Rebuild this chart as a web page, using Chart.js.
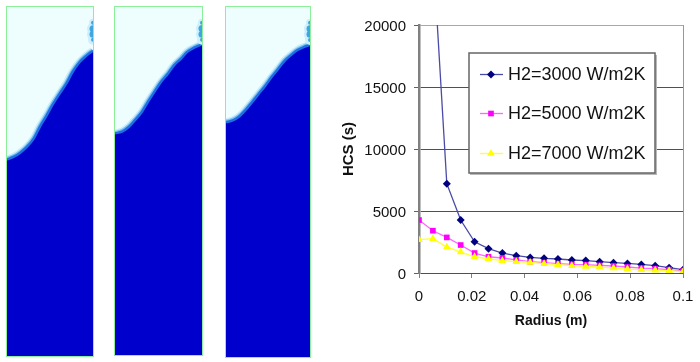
<!DOCTYPE html>
<html>
<head>
<meta charset="utf-8">
<script src="https://cdn.jsdelivr.net/npm/chart.js@4"></script>
<style>
  html, body { margin: 0; padding: 0; background: #fff; }
  body { position: relative; width: 700px; height: 362px; overflow: hidden; }
  .panel { position: absolute; box-sizing: border-box; border: 1px solid #8cf098; }
  .panel canvas { display: block; }
  #hcs { position: absolute; left: 340px; top: 0; }
</style>
</head>
<body>
<div class="panel" style="left:6px;top:6px;width:88px;height:351px"><canvas id="panel1" width="86" height="349"></canvas></div>
<div class="panel" style="left:114px;top:6px;width:89px;height:350px"><canvas id="panel2" width="87" height="348"></canvas></div>
<div class="panel" style="left:225px;top:6px;width:86px;height:352px"><canvas id="panel3" width="84" height="350"></canvas></div>
<canvas id="hcs" width="360" height="362"></canvas>
<script>
const radius = [0, 0.00526, 0.01053, 0.01579, 0.02105, 0.02632, 0.03158, 0.03684, 0.04211, 0.04737,
                0.05263, 0.05789, 0.06316, 0.06842, 0.07368, 0.07895, 0.08421, 0.08947, 0.09474, 0.1];
const hcs3000 = [32000, 26000, 7200, 4270, 2520, 1960, 1610, 1395, 1260, 1180,
                 1130, 1050, 1000, 910, 830, 775, 695, 590, 430, 270];
const hcs5000 = [4270, 3410, 2870, 2255, 1610, 1310, 1210, 1050, 910, 830,
                 750, 695, 670, 615, 565, 485, 400, 350, 270, 160];
const hcs7000 = [2690, 2770, 2100, 1690, 1310, 1150, 990, 910, 855, 750,
                 670, 590, 530, 485, 400, 320, 270, 215, 185, 105];
const seriesNames = ['H2=3000 W/m2K', 'H2=5000 W/m2K', 'H2=7000 W/m2K'];
const xTickLabels = ['0', '0.02', '0.04', '0.06', '0.08', '0.1'];

// contour of the quenched zone in each section, % of width / % of height
const front1X = [0, 8, 15, 23, 31, 38, 46, 53, 61, 69, 76, 84, 92, 100];
const front1Y = [56.3, 57.1, 58.2, 59.9, 62.3, 65.6, 68.9, 72.0, 75.1, 78.1, 81.3, 84.1, 86.0, 87.5];
const front2X = [0, 8, 16, 23, 31, 38, 46, 53, 61, 68, 76, 83, 91, 100];
const front2Y = [63.7, 64.2, 65.6, 67.5, 69.9, 72.8, 75.9, 78.5, 80.9, 83.3, 85.2, 87.1, 88.3, 89.3];
const front3X = [0, 8, 16, 23, 31, 39, 47, 54, 62, 70, 78, 85, 93, 100];
const front3Y = [67.1, 67.6, 68.8, 70.5, 72.8, 75.2, 77.6, 79.9, 82.3, 84.7, 86.4, 87.7, 88.6, 89.2];
const spotX = [100, 100, 100, 100];
const spotY = [95.5, 93.8, 92.2, 90.6];

const FONT = '"Liberation Sans", Arial, sans-serif';
Chart.defaults.font.family = FONT;
Chart.defaults.color = '#111';
Chart.defaults.animation = false;

function toPoints(xs, ys) {
    return xs.map((x, i) => ({ x: x, y: ys[i] }));
}

function drawPanel(id, frontX, frontY) {
    const front = toPoints(frontX, frontY);
    const spot = toPoints(spotX, spotY);
    const curve = { cubicInterpolationMode: 'monotone', pointRadius: 0 };
    new Chart(document.getElementById(id), {
        type: 'line',
        data: {
            datasets: [
                { data: spot, showLine: false, pointBackgroundColor: '#3fa6e2', pointBorderWidth: 0, pointRadius: [2, 3.5, 3.5, 2], order: 1 },
                { data: spot, showLine: false, pointBackgroundColor: '#cdeefb', pointBorderWidth: 0, pointRadius: [4, 6, 6, 5], order: 2 },
                { ...curve, data: front, borderColor: '#1f6fe6', borderWidth: 2.5, backgroundColor: '#0000cc', fill: 'origin', order: 3 },
                { ...curve, data: front, borderColor: '#7cc0f0', borderWidth: 5, order: 4 },
                { ...curve, data: front, borderColor: '#cdeefb', borderWidth: 8, order: 5 }
            ]
        },
        options: {
            responsive: false,
            layout: { padding: 0, autoPadding: false },
            plugins: { legend: { display: false }, tooltip: { enabled: false } },
            scales: {
                x: { type: 'linear', display: false, min: 0, max: 100 },
                y: { display: false, min: 0, max: 100 }
            }
        },
        plugins: [{
            id: 'paleBack',
            beforeDraw(chart) {
                const a = chart.chartArea;
                chart.ctx.fillStyle = '#eefeff';
                chart.ctx.fillRect(a.left, a.top, a.right - a.left, a.bottom - a.top);
            }
        }]
    });
}

drawPanel('panel1', front1X, front1Y);
drawPanel('panel2', front2X, front2Y);
drawPanel('panel3', front3X, front3Y);

// legend sits inside the plot, box with a drop shadow like the spreadsheet one
const boxLegend = {
    id: 'boxLegend',
    afterDraw(chart) {
        const c = chart.ctx;
        const rowY = [74, 113, 153];
        c.save();
        c.fillStyle = '#b8b8b8';
        c.fillRect(130, 55, 187, 120);
        c.fillStyle = '#fff';
        c.strokeStyle = '#666';
        c.lineWidth = 1.5;
        c.fillRect(129, 53, 186, 120);
        c.strokeRect(129, 53, 186, 120);
        chart.data.datasets.forEach((ds, i) => {
            c.strokeStyle = ds.borderColor;
            c.lineWidth = ds.borderWidth;
            c.beginPath();
            c.moveTo(140, rowY[i] + 0.5);
            c.lineTo(163, rowY[i] + 0.5);
            c.stroke();
            c.fillStyle = ds.pointBackgroundColor;
            c.strokeStyle = ds.pointBackgroundColor;
            Chart.helpers.drawPoint(c, { pointStyle: ds.pointStyle, radius: ds.pointRadius, rotation: 0, borderWidth: 0 }, 151, rowY[i] + 0.5);
            c.fillStyle = '#111';
            c.font = '18px ' + FONT;
            c.textBaseline = 'middle';
            c.textAlign = 'left';
            c.fillText(seriesNames[i], 168, rowY[i] + 1);
        });
        c.restore();
    }
};

new Chart(document.getElementById('hcs'), {
    type: 'line',
    data: {
        datasets: [
            { label: seriesNames[0], data: toPoints(radius, hcs3000), borderColor: '#4a4aa8', borderWidth: 1.3, pointStyle: 'rectRot', pointRadius: 4, pointBackgroundColor: '#000080', pointBorderWidth: 0, order: 3 },
            { label: seriesNames[1], data: toPoints(radius, hcs5000), borderColor: '#ff66ff', borderWidth: 1.3, pointStyle: 'rect', pointRadius: 4, pointBackgroundColor: '#ff00ff', pointBorderWidth: 0, order: 2 },
            { label: seriesNames[2], data: toPoints(radius, hcs7000), borderColor: '#ffff33', borderWidth: 1.3, pointStyle: 'triangle', pointRadius: 4.5, pointBackgroundColor: '#ffff00', pointBorderWidth: 0, order: 1 }
        ]
    },
    options: {
        responsive: false,
        layout: { padding: { top: 25, right: 17, bottom: 32, left: 0 }, autoPadding: false },
        plugins: { legend: { display: false }, tooltip: { enabled: false } },
        scales: {
            x: {
                type: 'linear',
                min: 0,
                max: 0.1,
                afterFit: s => { s.height = 57; s.paddingLeft = 0; s.paddingRight = 0; },
                afterBuildTicks: s => { s.ticks = xTickLabels.map(t => ({ value: Number(t) })); },
                ticks: {
                    font: { size: 15 },
                    padding: 10,
                    maxRotation: 0,
                    autoSkip: false,
                    callback: (v, i) => xTickLabels[i]
                },
                grid: {
                    color: ctx => (ctx.tick && ctx.tick.value === 0.1 ? '#989898' : 'rgba(0,0,0,0)'),
                    tickColor: '#808080',
                    tickLength: 5
                },
                border: { display: false },
                title: { display: true, text: 'Radius (m)', font: { size: 14, weight: 'bold' }, padding: 0 }
            },
            y: {
                min: 0,
                max: 20000,
                afterFit: s => { s.width = 79; s.paddingTop = 0; s.paddingBottom = 0; },
                ticks: {
                    stepSize: 5000,
                    font: { size: 15 },
                    padding: 8,
                    labelOffset: 2,
                    callback: v => String(v)
                },
                grid: {
                    color: ctx => (ctx.tick && ctx.tick.value === 20000 ? '#a8a8a8' : '#505050'),
                    tickColor: '#606060',
                    tickLength: 5
                },
                border: { color: '#808080', width: 2.5 },
                title: { display: true, text: 'HCS (s)', font: { size: 15, weight: 'bold' }, padding: 0 }
            }
        }
    },
    plugins: [boxLegend]
});
</script>
</body>
</html>
